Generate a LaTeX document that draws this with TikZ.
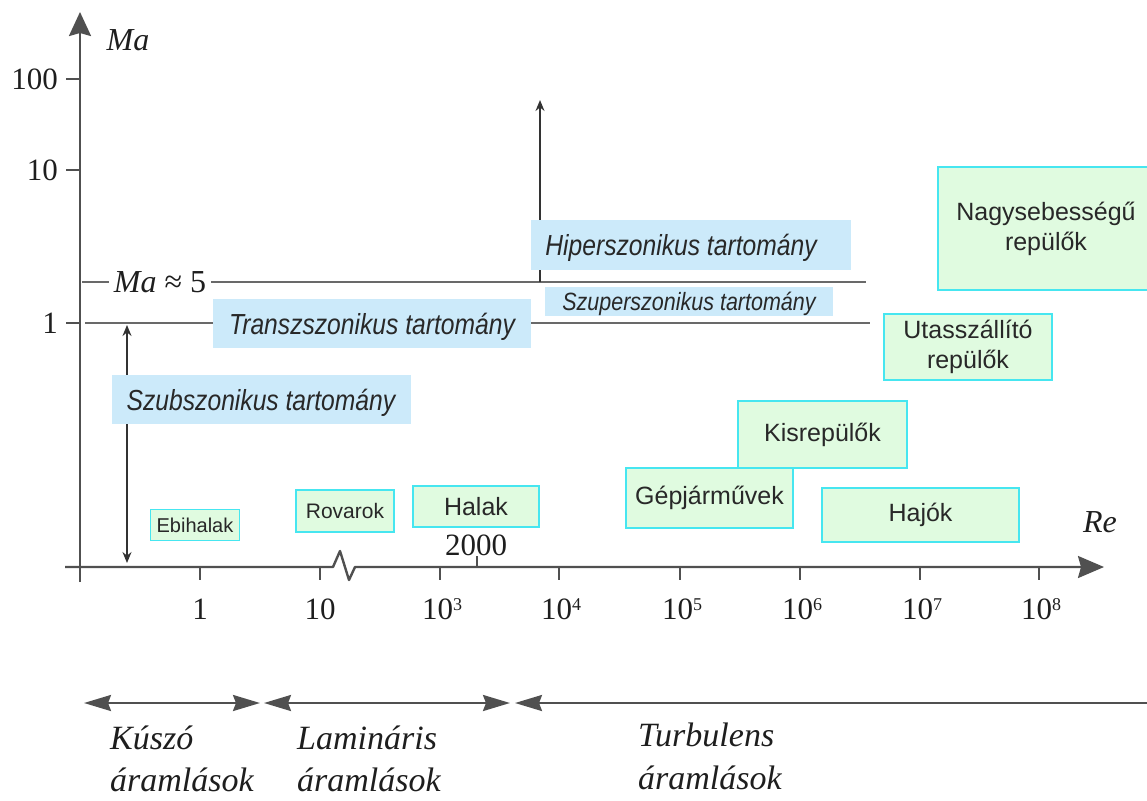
\documentclass[tikz,border=0pt]{standalone}
\usepackage{fontspec}
\usepackage{graphicx}
\setmainfont{Liberation Serif}
\newfontfamily\sansf{Liberation Sans}
\usetikzlibrary{arrows.meta}
\definecolor{axisgray}{RGB}{80,80,80}
\definecolor{linegray}{RGB}{105,105,105}
\definecolor{bluefill}{RGB}{204,234,250}
\definecolor{greenfill}{RGB}{224,251,224}
\definecolor{greenedge}{RGB}{70,230,240}
\definecolor{txt}{RGB}{30,30,30}
\definecolor{sanstxt}{RGB}{40,40,40}
\newcommand{\hsq}[2][0.85]{\scalebox{#1}[1]{#2}}
\newcommand{\fs}[1]{\fontsize{#1}{#1}\selectfont}
\newcommand{\tenexp}[1]{10\raisebox{8.5pt}{\fs{18}#1}}
\tikzset{
  axisline/.style={draw=axisgray, line width=2.4pt},
  tickline/.style={draw=axisgray, line width=2.2pt},
  levelline/.style={draw=linegray, line width=1.6pt},
  thinarrow/.style={draw=black!80, line width=1.6pt},
  bigarrow/.style={draw=axisgray, line width=2.4pt},
  bluebox/.style={fill=bluefill, inner sep=0pt, text depth=0pt, text=sanstxt, font=\sansf\itshape\fs{29}},
  greenbox/.style={fill=greenfill, draw=greenedge, line width=1.6pt, inner sep=0pt, text=sanstxt, align=center, font=\sansf\fontsize{25}{30}\selectfont},
  serif/.style={text=txt, inner sep=0pt, font=\fs{31}},
  serifit/.style={text=txt, inner sep=0pt, font=\itshape\fs{34}},
}
\begin{document}
\begin{tikzpicture}[x=1pt,y=-1pt]
\useasboundingbox (0,0) rectangle (1147,800);

% axes
\coordinate (ybot) at (80,582);
\coordinate (ytop) at (80,12);
\coordinate (xl) at (65,567);
\coordinate (z1) at (333,567);
\coordinate (z2) at (340,551);
\coordinate (z3) at (349,580);
\coordinate (z4) at (355,567);
\coordinate (xr) at (1104,567);
\draw[axisline, -{Stealth[length=24pt,width=22pt,inset=3pt]}] (ybot) -- (ytop);
\draw[axisline, line join=round, -{Stealth[length=26pt,width=22pt,inset=3pt]}] (xl) -- (z1) -- (z2) -- (z3) -- (z4) -- (xr);

% y ticks
\foreach \yy/\nm in {79/a,170/b,323/c}{
  \coordinate (yt\nm1) at (66,\yy);
  \coordinate (yt\nm2) at (80,\yy);
  \draw[tickline] (yt\nm1) -- (yt\nm2);
}
\node[serif, anchor=east] (y100) at (58,79) {100};
\node[serif, anchor=east] (y10) at (58,170) {10};
\node[serif, anchor=east] (y1) at (58,323) {1};

% x ticks
\foreach \xx/\nm in {200/a,320/b,440/c,559/d,680/e,800/f,920/g,1039/h}{
  \coordinate (xt\nm1) at (\xx,567);
  \coordinate (xt\nm2) at (\xx,580);
  \draw[tickline] (xt\nm1) -- (xt\nm2);
}
\coordinate (xti1) at (477,567);
\coordinate (xti2) at (477,556);
\draw[tickline] (xti1) -- (xti2);

\node[serif] (x1) at (200,609) {1};
\node[serif] (x10) at (320,609) {10};
\node[serif] (x3) at (442,609) {\tenexp{3}};
\node[serif] (x4) at (561,609) {\tenexp{4}};
\node[serif] (x5) at (682,609) {\tenexp{5}};
\node[serif] (x6) at (802,609) {\tenexp{6}};
\node[serif] (x7) at (922,609) {\tenexp{7}};
\node[serif] (x8) at (1041,609) {\tenexp{8}};
\node[serif] (x2000) at (476,545) {2000};

% axis labels
\node[text=txt, inner sep=0pt, font=\itshape\fs{32}] (malab) at (128,40) {Ma};
\node[text=txt, inner sep=0pt, font=\itshape\fs{32}] (relab) at (1100,522) {Re};

% level lines
\coordinate (l5a) at (82,282);
\coordinate (l5b) at (866,282);
\coordinate (l1a) at (85,323);
\coordinate (l1b) at (870,323);
\draw[levelline] (l5a) -- (l5b);
\draw[levelline] (l1a) -- (l1b);
\node[fill=white, inner xsep=5pt, inner ysep=2pt, text=txt, font=\fs{32}] (ma5) at (160,282) {{\itshape Ma} ≈ 5};

% thin arrows
\coordinate (da1) at (127,325);
\coordinate (da2) at (127,563);
\draw[thinarrow, {Stealth[length=11pt,width=9pt]}-{Stealth[length=11pt,width=9pt]}] (da1) -- (da2);
\coordinate (ua1) at (540,282);
\coordinate (ua2) at (540,100);
\draw[thinarrow, -{Stealth[length=11pt,width=9pt]}] (ua1) -- (ua2);

% blue regions
\node[bluebox, minimum width=320, minimum height=50] (hiper) at (691,245) {\hsq{Hiperszonikus tartomány}\hspace*{20pt}};
\node[bluebox, minimum width=288, minimum height=29, font=\sansf\itshape\fs{25}] (szuper) at (689,301) {\hsq[0.86]{Szuperszonikus tartomány}};
\node[bluebox, minimum width=318, minimum height=49] (transz) at (372,323.5) {\hsq{Transzszonikus tartomány}};
\node[bluebox, minimum width=299, minimum height=49] (szub) at (261,399.5) {\hsq{Szubszonikus tartomány}};

% green objects
\node[greenbox, minimum width=89, minimum height=31, font=\sansf\fs{20}] (ebihalak) at (195,525) {Ebihalak};
\node[greenbox, minimum width=98, minimum height=42, font=\sansf\fs{21}] (rovarok) at (345,511) {Rovarok};
\node[greenbox, minimum width=126, minimum height=41] (halak) at (476,506.5) {Halak};
\node[greenbox, minimum width=167, minimum height=60] (gepjar) at (709.5,498) {Gépjárművek};
\node[greenbox, minimum width=169, minimum height=67] (kisrep) at (822.5,434.5) {Kisrepülők};
\node[greenbox, minimum width=197, minimum height=54] (hajok) at (920.5,515) {Hajók};
\node[greenbox, minimum width=168, minimum height=66] (utas) at (968,347) {Utasszállító\\repülők};
\node[greenbox, minimum width=216, minimum height=123] (nagy) at (1046,228.5) {Nagysebességű\\repülők};

% flow regimes
\coordinate (k1) at (84,703);
\coordinate (k2) at (260,703);
\coordinate (m1) at (264,703);
\coordinate (m2) at (510,703);
\coordinate (t1) at (515,703);
\coordinate (t2) at (1152,703);
\draw[bigarrow, {Stealth[length=27pt,width=16pt,inset=3pt]}-{Stealth[length=27pt,width=16pt,inset=3pt]}] (k1) -- (k2);
\draw[bigarrow, {Stealth[length=27pt,width=16pt,inset=3pt]}-{Stealth[length=27pt,width=16pt,inset=3pt]}] (m1) -- (m2);
\draw[bigarrow, {Stealth[length=27pt,width=16pt,inset=3pt]}-] (t1) -- (t2);

\node[serifit, anchor=base west] (kusz1) at (110,749) {Kúszó};
\node[serifit, anchor=base west] (kusz2) at (110,791) {áramlások};
\node[serifit, anchor=base west] (lam1) at (297,749) {Lamináris};
\node[serifit, anchor=base west] (lam2) at (297,791) {áramlások};
\node[serifit, anchor=base west] (turb1) at (638,746) {Turbulens};
\node[serifit, anchor=base west] (turb2) at (638,789) {áramlások};
\end{tikzpicture}
\end{document}
